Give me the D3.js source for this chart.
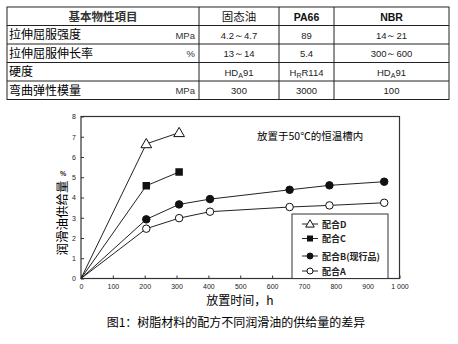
<!DOCTYPE html>
<html><head><meta charset="utf-8">
<script src="https://cdn.jsdelivr.net/npm/d3@7/dist/d3.min.js"></script>
<style>body{margin:0;background:#fff}svg{display:block}</style>
</head><body>
<script>
// ---- Data ----
const tableHeader = ["基本物性項目", "固态油", "PA66", "NBR"];
const tableItems = ["拉伸屈服强度", "拉伸屈服伸长率", "硬度", "弯曲弹性模量"];
const tableUnits = ["MPa", "%", "", "MPa"];
const colSolidOil = ["4.2～4.7", "13～14", "HD_A91", "300"];
const colPA66 = ["89", "5.4", "H_RR114", "3000"];
const colNBR = ["14～21", "300～600", "HD_A91", "100"];

const xTicks = [0,100,200,300,400,500,600,700,800,900,1000];
const xTickLabels = ["0","100","200","300","400","500","600","700","800","900","1 000"];
const yTicks = [0,1,2,3,4,5,6,7,8];

const seriesNames = ["配合D", "配合C", "配合B(现行品)", "配合A"];
const seriesMarkers = ["triangle", "square", "filled", "open"];
const hoursD = [0, 205, 308];
const valuesD = [0, 6.65, 7.2];
const hoursC = [0, 205, 308];
const valuesC = [0, 4.58, 5.26];
const hoursB = [0, 205, 308, 405, 655, 780, 952];
const valuesB = [0, 2.92, 3.66, 3.92, 4.38, 4.6, 4.78];
const hoursA = [0, 205, 308, 405, 655, 780, 952];
const valuesA = [0, 2.46, 2.98, 3.3, 3.53, 3.61, 3.74];

const W = 458, H = 344;
const svg = d3.select("body").append("svg").attr("width", W).attr("height", H);
const cjk = "'Noto Sans CJK SC', 'Noto Sans', sans-serif";
const latin = "'Liberation Sans', Arial, sans-serif";

// ---- Table ----
const colX = [7, 199, 279, 334, 449];
const rowY = d3.range(6).map(i => 7 + i * 18.5);
const tg = svg.append("g");
tg.append("rect").attr("x", colX[0]).attr("y", rowY[0]).attr("width", colX[4]-colX[0]).attr("height", rowY[5]-rowY[0])
  .attr("fill", "none").attr("stroke", "#222").attr("stroke-width", 1);
rowY.slice(1,5).forEach(y => tg.append("line").attr("x1", colX[0]).attr("x2", colX[4]).attr("y1", y).attr("y2", y).attr("stroke", "#222"));
colX.slice(1,4).forEach(x => tg.append("line").attr("x1", x).attr("x2", x).attr("y1", rowY[0]).attr("y2", rowY[5]).attr("stroke", "#222"));

const colCenters = [ (colX[0]+colX[1])/2, (colX[1]+colX[2])/2, (colX[2]+colX[3])/2, (colX[3]+colX[4])/2 ];
tableHeader.forEach((t, i) => {
  tg.append("text").attr("x", colCenters[i]).attr("y", rowY[0] + 13.5).attr("text-anchor", "middle")
    .attr("font-family", i >= 2 ? latin : cjk).attr("font-size", i >= 2 ? 10.5 : 11.5)
    .attr("font-weight", (i === 1) ? "normal" : "bold").attr("fill", i === 0 ? "#333" : "#111").text(t);
});
tableItems.forEach((t, r) => {
  tg.append("text").attr("x", 9).attr("y", rowY[r+1] + 13.5).attr("font-family", cjk).attr("font-size", 12).attr("fill", "#000").text(t);
  if (tableUnits[r]) tg.append("text").attr("x", 195).attr("y", rowY[r+1] + 13).attr("text-anchor", "end")
    .attr("font-family", latin).attr("font-size", 9.5).attr("fill", "#333").text(tableUnits[r]);
});
function cellText(x, y, s) {
  const t = tg.append("text").attr("x", x).attr("y", y).attr("text-anchor", "middle")
    .attr("font-family", latin).attr("font-size", 9.5).attr("fill", "#222");
  if (s.includes("_")) {
    const [a, rest] = s.split("_");
    t.append("tspan").text(a);
    t.append("tspan").attr("font-size", 7).attr("dy", 2.5).text(rest[0]);
    t.append("tspan").attr("dy", -2.5).text(rest.slice(1));
  } else t.text(s.replace(/～/g, "～"));
}
[colSolidOil, colPA66, colNBR].forEach((col, c) => {
  col.forEach((s, r) => cellText(colCenters[c+1], rowY[r+1] + 13, s));
});

// ---- Chart ----
const x = d3.scaleLinear().domain([0, 1000]).range([81, 399.5]);
const y = d3.scaleLinear().domain([0, 8]).range([278.5, 116.5]);
const g = svg.append("g");

g.append("rect").attr("x", x(0)).attr("y", y(8)).attr("width", x(1000)-x(0)).attr("height", y(0)-y(8))
  .attr("fill", "none").attr("stroke", "#333").attr("stroke-width", 1.2);

const xAxis = g.append("g").attr("transform", `translate(0,${y(0)})`)
  .call(d3.axisBottom(x).tickValues(xTicks).tickSize(-3).tickPadding(6).tickFormat((d,i) => xTickLabels[i]));
xAxis.select(".domain").remove();
xAxis.selectAll("text").attr("font-family", latin).attr("font-size", 7).attr("fill", "#222");
xAxis.selectAll("line").attr("stroke", "#333");

const yAxis = g.append("g").attr("transform", `translate(${x(0)},0)`)
  .call(d3.axisLeft(y).tickValues(yTicks).tickSize(-3).tickPadding(5).tickFormat(d3.format("d")));
yAxis.select(".domain").remove();
yAxis.selectAll("text").attr("font-family", latin).attr("font-size", 7).attr("fill", "#222");
yAxis.selectAll("line").attr("stroke", "#333");

// labels
svg.append("text").attr("transform", "translate(67,218) rotate(-90)").attr("text-anchor", "middle")
  .attr("font-family", cjk).attr("font-size", 12.5).attr("fill", "#000").text("润滑油供给量");
svg.append("text").attr("x", 63).attr("y", 176).attr("text-anchor", "middle")
  .attr("font-family", latin).attr("font-size", 7).attr("font-weight", "bold").attr("fill", "#222").text("%");
svg.append("text").attr("x", 240).attr("y", 305).attr("text-anchor", "middle")
  .attr("font-family", cjk).attr("font-size", 12).attr("fill", "#000").text("放置时间，h");
svg.append("text").attr("x", 236).attr("y", 327).attr("text-anchor", "middle")
  .attr("font-family", cjk).attr("font-size", 12).attr("fill", "#000").text("图1：树脂材料的配方不同润滑油的供给量的差异");
svg.append("text").attr("x", 257).attr("y", 140)
  .attr("font-family", cjk).attr("font-size", 10.5).attr("fill", "#000").text("放置于50℃的恒温槽内");

// series
const series = [
  {h: hoursD, v: valuesD}, {h: hoursC, v: valuesC}, {h: hoursB, v: valuesB}, {h: hoursA, v: valuesA}
];
const line = d3.line().x(d => x(d[0])).y(d => y(d[1]));
function marker(sel, type, cx, cy, s) {
  if (type === "triangle") {
    const sz = s * 1.15;
    sel.append("path").attr("d", `M${cx},${cy - sz*0.62}L${cx + sz*0.62},${cy + sz*0.45}L${cx - sz*0.62},${cy + sz*0.45}Z`)
      .attr("fill", "#fff").attr("stroke", "#111").attr("stroke-width", 1);
  } else if (type === "square") {
    sel.append("rect").attr("x", cx - s/2).attr("y", cy - s/2).attr("width", s).attr("height", s).attr("fill", "#111");
  } else {
    sel.append("circle").attr("cx", cx).attr("cy", cy).attr("r", s/2)
      .attr("fill", type === "filled" ? "#111" : "#fff").attr("stroke", "#111").attr("stroke-width", 1);
  }
}
series.forEach((s, i) => {
  const pts = s.h.map((h, j) => [h, s.v[j]]);
  g.append("path").attr("d", line(pts)).attr("fill", "none").attr("stroke", "#222").attr("stroke-width", 1);
  pts.slice(1).forEach(p => marker(g, seriesMarkers[i], x(p[0]), y(p[1]), 7.5));
});

// legend
const lg = svg.append("g");
lg.append("rect").attr("x", 292).attr("y", 214).attr("width", 96).attr("height", y(0) - 214)
  .attr("fill", "#fff").attr("stroke", "#333").attr("stroke-width", 1);
const legY = [224, 238.5, 256, 271];
seriesNames.forEach((n, i) => {
  lg.append("line").attr("x1", 302).attr("x2", 318).attr("y1", legY[i]).attr("y2", legY[i]).attr("stroke", "#222");
  marker(lg, seriesMarkers[i], 310, legY[i], 6);
  lg.append("text").attr("x", 322).attr("y", legY[i] + 3.5).attr("font-family", cjk).attr("font-size", 9)
    .attr("font-weight", "bold").attr("fill", "#222").text(n);
});
</script>
</body></html>
